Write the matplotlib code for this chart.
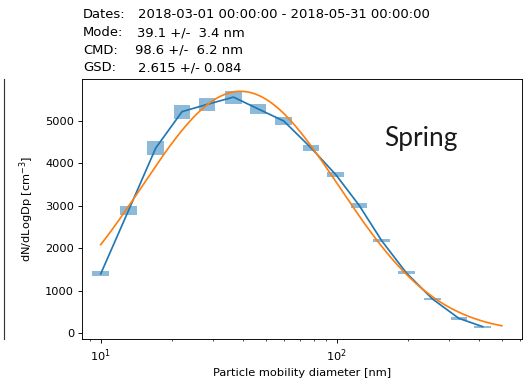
import numpy as np
import matplotlib
matplotlib.use("Agg")
import matplotlib.pyplot as plt
from matplotlib.lines import Line2D

# size distribution, spring season
diameter = [10.0, 13.1, 17.1, 22.1, 28.2, 36.5, 46.4, 59.6, 77.8, 99.0,
            124.4, 155.0, 197.0, 254.0, 329.0, 415.0]
dndlogdp = [1395, 2884, 4362, 5220, 5390, 5563, 5285, 5000, 4366, 3735,
            3010, 2175, 1418, 804, 345, 149]
dndlogdp_err = [60, 106, 170, 165, 155, 155, 120, 100, 67, 51,
                60, 40, 35, 30, 30, 25]

# lognormal fit
dates = "2018-03-01 00:00:00 - 2018-05-31 00:00:00"
mode, mode_err = 39.1, 3.4
cmd, cmd_err = 98.6, 6.2
gsd, gsd_err = 2.615, 0.084
fit_peak = 5700
fit_range = (10.0, 500.0)

dpi = 82
fig = plt.figure(figsize=(526 / dpi, 382 / dpi), dpi=dpi)
ax = fig.add_axes([82 / 526, 1 - 339 / 382, 440 / 526, 260 / 382])
ax.set_xscale("log")

# error boxes around each bin
half = 10 ** 0.035
x = np.array(diameter)
y = np.array(dndlogdp)
e = np.array(dndlogdp_err)
ax.bar(x / half, 2 * e, width=x * half - x / half, bottom=y - e,
       align="edge", color="#1f77b4", alpha=0.5, linewidth=0)
ax.plot(x, y, color="#1f77b4")

dfit = np.logspace(np.log10(fit_range[0]), np.log10(fit_range[1]), 200)
fit = fit_peak * np.exp(-np.log10(dfit / mode) ** 2 / (2 * np.log10(gsd) ** 2))
ax.plot(dfit, fit, color="#ff7f0e")

ax.set_xlim(8.33, 609)
ax.set_ylim(-142, 5990)
ax.set_xlabel("Particle mobility diameter [nm]")
ax.set_ylabel("dN/dLogDp [cm$^{-3}$]")
ax.yaxis.set_label_coords(-0.105, 0.5)

ax.text(0.77, 0.77, "Spring", transform=ax.transAxes, ha="center",
        va="center", fontsize=23, family="Lato", color="#1a1a1a")

rows = [("Dates:", dates, 138),
        ("Mode:", "%.1f +/- %4.1f nm" % (mode, mode_err), 137),
        ("CMD:", "%.1f +/- %4.1f nm" % (cmd, cmd_err), 135),
        ("GSD:", "%.3f +/- %.3f" % (gsd, gsd_err), 138)]
for i, (label, value, xv) in enumerate(rows):
    yy = 1 - (15 + 17.6 * i) / 382
    fig.text(83 / 526, yy, label, fontsize=11.5, va="center")
    fig.text(xv / 526, yy, value, fontsize=11.5, va="center")

# edge of the neighbouring panel
fig.add_artist(Line2D([4 / 526, 4 / 526], [1 - 339 / 382, 1 - 79 / 382],
                      color="#333333", linewidth=1.0))

fig.savefig("out.png", dpi=dpi)
